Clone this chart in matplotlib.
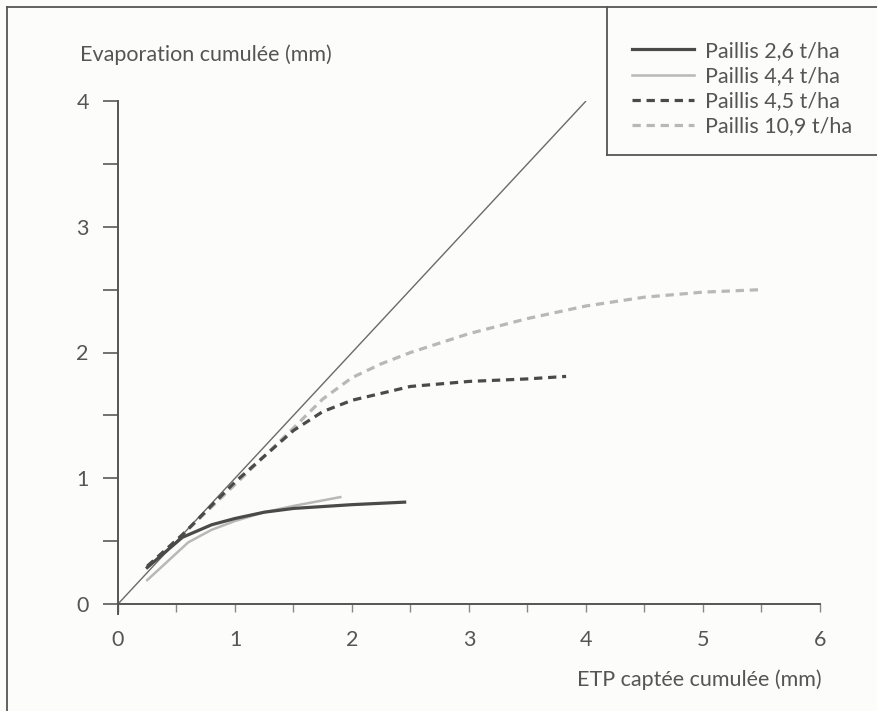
import matplotlib
matplotlib.use("Agg")
import matplotlib.pyplot as plt
from matplotlib.lines import Line2D

plt.rcParams['font.family'] = ['Lato', 'DejaVu Sans']

# Data
x_26 = [0.25, 0.55, 0.8, 1.0, 1.25, 1.5, 2.0, 2.45]
y_26 = [0.29, 0.53, 0.63, 0.68, 0.73, 0.76, 0.79, 0.81]

x_44 = [0.25, 0.6, 0.8, 1.0, 1.25, 1.5, 1.9]
y_44 = [0.19, 0.49, 0.59, 0.66, 0.73, 0.78, 0.85]

x_45 = [0.25, 0.55, 1.0, 1.5, 1.75, 2.0, 2.5, 3.0, 3.5, 3.83]
y_45 = [0.30, 0.55, 0.97, 1.38, 1.53, 1.62, 1.73, 1.77, 1.79, 1.81]

x_109 = [0.25, 0.55, 1.0, 1.5, 1.75, 2.0, 2.25, 2.5, 3.0, 3.5, 4.0, 4.5, 5.0, 5.5]
y_109 = [0.30, 0.55, 0.95, 1.40, 1.63, 1.80, 1.91, 2.00, 2.15, 2.27, 2.37, 2.44, 2.48, 2.50]

ref_x = [0, 4]
ref_y = [0, 4]

labels = ["Paillis 2,6 t/ha", "Paillis 4,4 t/ha", "Paillis 4,5 t/ha", "Paillis 10,9 t/ha"]
xticks = [0, 1, 2, 3, 4, 5, 6]
yticks = [0, 1, 2, 3, 4]
xlabel = "ETP captée cumulée (mm)"
ylabel = "Evaporation cumulée (mm)"

W, H = 878, 711
fig = plt.figure(figsize=(W / 100, H / 100), dpi=100)
fig.patch.set_facecolor('#fcfcfa')

def fx(px):
    return px / W

def fy(py):
    return 1 - py / H

FS = 15.5

x0, x1 = 118, 820
y0, y1 = 604, 101
ax = fig.add_axes([fx(x0), fy(y0), (x1 - x0) / W, (y0 - y1) / H])
ax.set_facecolor('none')
ax.set_xlim(0, 6)
ax.set_ylim(0, 4)

dark = '#4a4a4a'
light = '#b8b8b8'
txt = '#555555'

ax.plot(ref_x, ref_y, color='#6a6a6a', lw=1.0, solid_capstyle='butt')
ax.plot(x_109, y_109, color=light, lw=2.3, dashes=(2.6, 1.8))
ax.plot(x_45, y_45, color=dark, lw=2.3, dashes=(2.6, 1.8))
ax.plot(x_44, y_44, color=light, lw=1.8)
ax.plot(x_26, y_26, color=dark, lw=2.3)

for s in ['top', 'right']:
    ax.spines[s].set_visible(False)
for s in ['left', 'bottom']:
    ax.spines[s].set_color('#555555')
    ax.spines[s].set_linewidth(1.4)

ax.set_xticks(xticks)
ax.set_xticks([0.5, 1.5, 2.5, 3.5, 4.5, 5.5], minor=True)
ax.set_yticks(yticks)
ax.set_yticks([0.5, 1.5, 2.5, 3.5], minor=True)
ax.set_xticklabels([str(v) for v in xticks])
ax.set_yticklabels([str(v) for v in yticks])

ax.tick_params(axis='y', which='both', direction='out', length=11, width=1.3,
               color='#666666', pad=10, labelsize=FS, labelcolor=txt)
ax.tick_params(axis='y', which='minor', labelleft=False)
ax.tick_params(axis='x', which='both', direction='out', length=6, width=1.0,
               color='#888888', pad=13, labelsize=FS, labelcolor=txt)

# extension at the origin
ax.plot([0, 0], [0, -0.08], color='#555555', lw=1.4, clip_on=False)

fig.text(fx(80), fy(55), ylabel, ha='left', va='center', fontsize=FS, color=txt)
fig.text(fx(822), fy(680), xlabel, ha='right', va='center', fontsize=FS, color=txt)

# figure frame
fig.add_artist(Line2D([fx(7), fx(7)], [fy(7), 0], transform=fig.transFigure,
                      color='#555555', lw=1.3))
fig.add_artist(Line2D([fx(7), 1], [fy(7), fy(7)], transform=fig.transFigure,
                      color='#555555', lw=1.3))
# legend box
fig.add_artist(Line2D([fx(607), fx(607)], [fy(7), fy(155)], transform=fig.transFigure,
                      color='#555555', lw=1.3))
fig.add_artist(Line2D([fx(607), 1], [fy(155), fy(155)], transform=fig.transFigure,
                      color='#555555', lw=1.3))

handles = [
    Line2D([], [], color=dark, lw=2.3),
    Line2D([], [], color=light, lw=1.8),
    Line2D([], [], color=dark, lw=2.3, dashes=(2.6, 1.8)),
    Line2D([], [], color=light, lw=2.3, dashes=(2.6, 1.8)),
]
leg = fig.legend(handles, labels, loc='upper left',
                 bbox_to_anchor=(fx(632), fy(41)), bbox_transform=fig.transFigure,
                 frameon=False, fontsize=FS, handlelength=2.9, handletextpad=0.5,
                 labelspacing=0.24, borderaxespad=0, borderpad=0)
for t in leg.get_texts():
    t.set_color(txt)

fig.savefig('out.png', dpi=100, facecolor=fig.get_facecolor())
